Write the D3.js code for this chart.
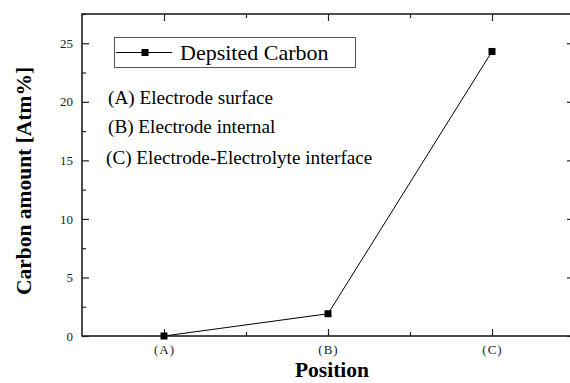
<!DOCTYPE html>
<html><head><meta charset="utf-8">
<script src="https://cdn.jsdelivr.net/npm/d3@7"></script>
</head>
<body>
<script>
const categories = ["(A)", "(B)", "(C)"];
const carbonValues = [0, 1.9, 24.3];
const yTicks = [0, 5, 10, 15, 20, 25];
const yMinorTicks = [2.5, 7.5, 12.5, 17.5, 22.5, 27.5];
const xMinorTicks = [1.5, 2.5];
const legendLabel = "Depsited Carbon";
const notes = ["(A) Electrode surface", "(B) Electrode internal", "(C) Electrode-Electrolyte interface"];
const xTitle = "Position";
const yTitle = "Carbon amount [Atm%]";

document.body.style.margin = "0";
const W = 570, H = 383;
const L = 82, R = 574, T = 14, B = 336;

const svg = d3.select("body").append("svg").attr("width", W).attr("height", H)
  .style("display", "block").style("background", "#fff");

const x = d3.scaleLinear().domain([0.5, 3.5]).range([L, R]);
const y = d3.scaleLinear().domain([0, 27.5]).range([B, T]);
const xIdx = categories.map((c, i) => i + 1);

const tickFont = "Liberation Serif";
const axisColor = "#222";

function styleAxis(g) {
  g.attr("font-family", tickFont);
  g.select(".domain").remove();
  g.selectAll("line").attr("stroke", axisColor).attr("stroke-width", 1.2);
  g.selectAll("text").attr("font-family", tickFont).attr("font-size", 13).attr("fill", "#222");
}

svg.append("g").attr("transform", `translate(${L},0)`)
  .call(d3.axisLeft(y).tickValues(yTicks).tickSizeInner(-7).tickSizeOuter(0).tickPadding(9).tickFormat(d3.format("d")))
  .call(styleAxis);
svg.append("g").attr("transform", `translate(${L},0)`)
  .call(d3.axisLeft(y).tickValues(yMinorTicks).tickSizeInner(-4).tickSizeOuter(0).tickFormat(""))
  .call(styleAxis);
svg.append("g").attr("transform", `translate(${R},0)`)
  .call(d3.axisRight(y).tickValues(yTicks).tickSizeInner(-7).tickSizeOuter(0).tickFormat(""))
  .call(styleAxis);
svg.append("g").attr("transform", `translate(${R},0)`)
  .call(d3.axisRight(y).tickValues(yMinorTicks).tickSizeInner(-4).tickSizeOuter(0).tickFormat(""))
  .call(styleAxis);
svg.append("g").attr("transform", `translate(0,${B})`)
  .call(d3.axisBottom(x).tickValues(xIdx).tickSizeInner(-7).tickSizeOuter(0).tickPadding(9).tickFormat((d, i) => categories[i]))
  .call(styleAxis)
  .call(g => g.selectAll("text").attr("letter-spacing", 1));
svg.append("g").attr("transform", `translate(0,${B})`)
  .call(d3.axisBottom(x).tickValues(xMinorTicks).tickSizeInner(-4).tickSizeOuter(0).tickFormat(""))
  .call(styleAxis);
svg.append("g").attr("transform", `translate(0,${T})`)
  .call(d3.axisTop(x).tickValues(xIdx).tickSizeInner(-7).tickSizeOuter(0).tickFormat(""))
  .call(styleAxis);
svg.append("g").attr("transform", `translate(0,${T})`)
  .call(d3.axisTop(x).tickValues(xMinorTicks).tickSizeInner(-4).tickSizeOuter(0).tickFormat(""))
  .call(styleAxis);

svg.append("rect").attr("x", L).attr("y", T).attr("width", R - L).attr("height", B - T)
  .attr("fill", "none").attr("stroke", axisColor).attr("stroke-width", 1.6);

const data = xIdx.map((xi, i) => ({ x: xi, v: carbonValues[i] }));
svg.append("path").datum(data)
  .attr("d", d3.line().x(d => x(d.x)).y(d => y(d.v)))
  .attr("fill", "none").attr("stroke", "#000").attr("stroke-width", 1);
const ms = 7;
svg.selectAll("rect.pt").data(data).join("rect").attr("class", "pt")
  .attr("x", d => x(d.x) - ms / 2).attr("y", d => y(d.v) - ms / 2)
  .attr("width", ms).attr("height", ms).attr("fill", "#000");

const lg = svg.append("g");
lg.append("rect").attr("x", 114.5).attr("y", 37.5).attr("width", 241).attr("height", 30)
  .attr("fill", "#fff").attr("stroke", "#555").attr("stroke-width", 1);
lg.append("line").attr("x1", 116).attr("x2", 172).attr("y1", 52.5).attr("y2", 52.5)
  .attr("stroke", "#000").attr("stroke-width", 1);
lg.append("rect").attr("x", 145 - ms / 2).attr("y", 52.5 - ms / 2).attr("width", ms).attr("height", ms).attr("fill", "#000");
lg.append("text").attr("x", 180).attr("y", 60).text(legendLabel)
  .attr("font-family", tickFont).attr("font-size", 22).attr("fill", "#000");

const noteX = [108, 108, 106];
const noteY = [104, 133, 164];
svg.selectAll("text.note").data(notes).join("text").attr("class", "note")
  .attr("x", (d, i) => noteX[i]).attr("y", (d, i) => noteY[i]).text(d => d)
  .attr("font-family", tickFont).attr("font-size", 19.2).attr("fill", "#000");

svg.append("text").attr("x", 332).attr("y", 377).attr("text-anchor", "middle").text(xTitle)
  .attr("font-family", tickFont).attr("font-weight", "bold").attr("font-size", 21.5);
svg.append("text").attr("transform", `translate(31,181) rotate(-90)`)
  .attr("text-anchor", "middle").text(yTitle)
  .attr("font-family", tickFont).attr("font-weight", "bold").attr("font-size", 21.5);
</script>
</body></html>
